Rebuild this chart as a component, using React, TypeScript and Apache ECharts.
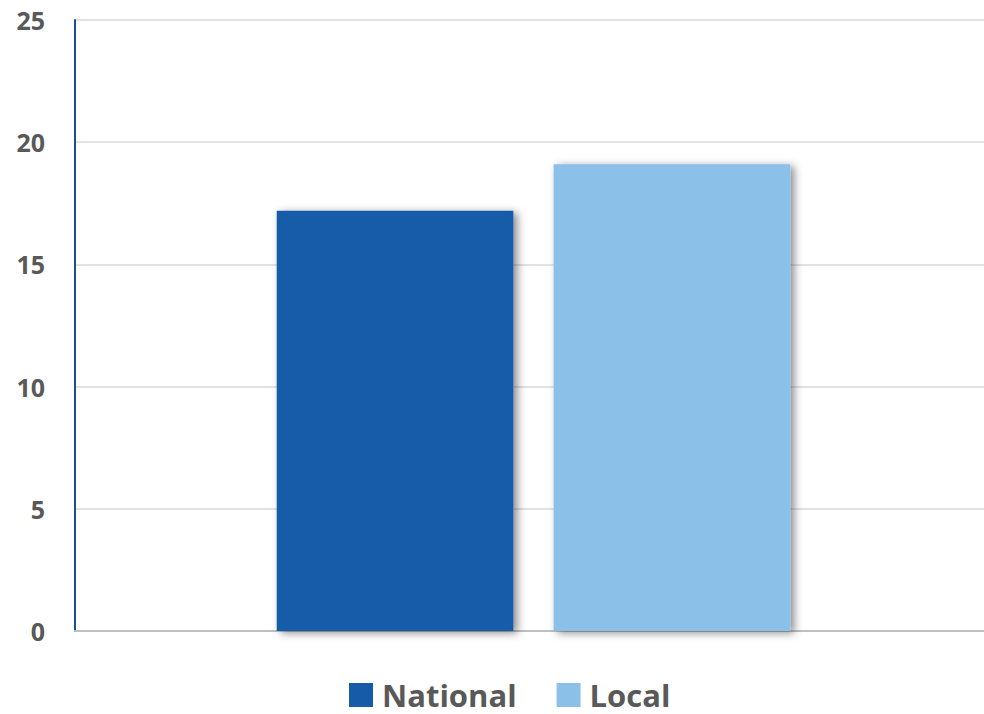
import React, { useEffect, useRef } from "react";
import * as echarts from "echarts";

const categories = [""];
const seriesNames = ["National", "Local"];
const nationalValues = [17.2];
const localValues = [19.1];
const colors = ["#165BA8", "#8BC1E8"];

export default function App() {
  const ref = useRef<HTMLDivElement>(null);
  useEffect(() => {
    if (!ref.current) return;
    const chart = echarts.init(ref.current, null, { renderer: "svg" });
    const shadow = {
      shadowColor: "rgba(0,0,0,0.45)",
      shadowBlur: 8,
      shadowOffsetX: 4,
      shadowOffsetY: 2,
    };
    chart.setOption({
      animation: false,
      grid: { left: 75, right: 8, top: 20, bottom: 83, containLabel: false },
      legend: {
        top: 673,
        left: 344,
        itemWidth: 24,
        itemHeight: 24,
        itemGap: 40,
        icon: "rect",
        textStyle: {
          fontFamily: "Open Sans",
          fontWeight: "bold",
          fontSize: 31,
          lineHeight: 34,
          color: "#595959",
          padding: [0, 0, 0, 4],
        },
        data: seriesNames,
      },
      xAxis: {
        type: "category",
        data: categories,
        axisLine: { show: true, lineStyle: { color: "#BFBFBF", width: 2 } },
        axisTick: { show: false },
        axisLabel: { show: false },
      },
      yAxis: {
        type: "value",
        min: 0,
        max: 25,
        interval: 5,
        axisLine: { show: true, lineStyle: { color: "#1F4E8C", width: 2 } },
        axisTick: { show: false },
        splitLine: { lineStyle: { color: "#D9D9D9", width: 1.5 } },
        axisLabel: {
          margin: 30,
          fontFamily: "Open Sans",
          fontWeight: "bold",
          fontSize: 25,
          color: "#595959",
        },
      },
      series: [
        {
          name: seriesNames[0],
          type: "bar",
          data: nationalValues,
          barGap: "17%",
          barCategoryGap: "44%",
          itemStyle: { color: colors[0], ...shadow },
        },
        {
          name: seriesNames[1],
          type: "bar",
          data: localValues,
          itemStyle: { color: colors[1], ...shadow },
        },
      ],
    });
    return () => chart.dispose();
  }, []);
  return (
    <div style={{ width: 984, height: 714, position: "absolute", left: 0, top: 0, overflow: "hidden", background: "#fff" }}>
      <div ref={ref} style={{ width: 1000, height: 714 }} />
    </div>
  );
}
